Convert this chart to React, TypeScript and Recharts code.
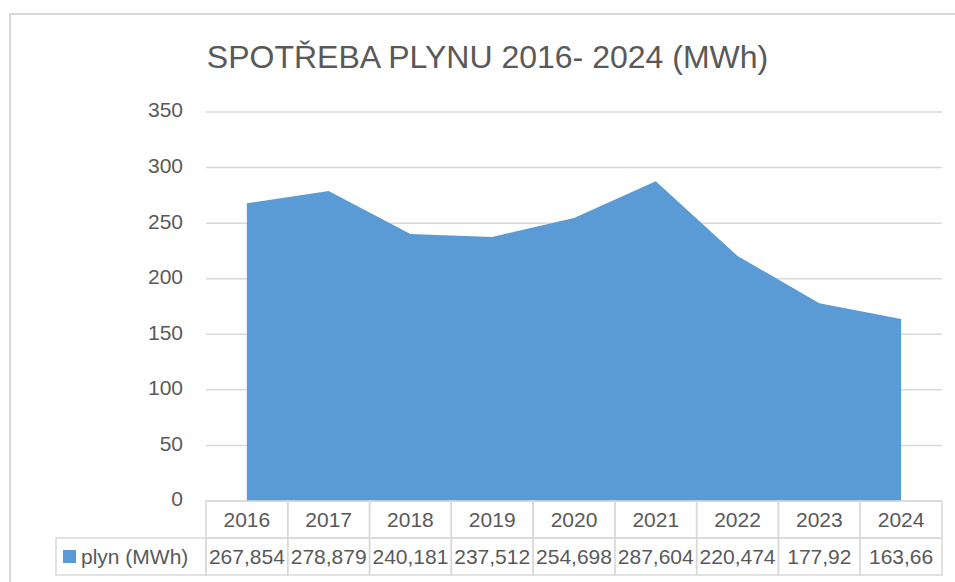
import React from 'react';
import { AreaChart, Area, XAxis, YAxis, CartesianGrid } from 'recharts';

const years = ['2016', '2017', '2018', '2019', '2020', '2021', '2022', '2023', '2024'];
const consumption = [267.854, 278.879, 240.181, 237.512, 254.698, 287.604, 220.474, 177.92, 163.66];
const yTicks = [0, 50, 100, 150, 200, 250, 300, 350];
const seriesName = 'plyn (MWh)';
const title = 'SPOTŘEBA PLYNU 2016- 2024 (MWh)';

const data = years.map((year, i) => ({ year, plyn: consumption[i] }));

const WIDTH = 955;
const HEIGHT = 582;
const PLOT_LEFT = 206;
const PLOT_RIGHT = 942;
const COL_W = (PLOT_RIGHT - PLOT_LEFT) / years.length;
const ROW_H = 37;
const TEXT = '#595959';
const BORDER = '#d9d9d9';
const FILL = '#5b9bd5';
const FONT = '"Liberation Sans", Arial, sans-serif';

const formatValue = (v: number) => String(v).replace('.', ',');

const TableTick = (props: any) => {
    const { x, y, payload, index } = props;
    const value = consumption[index];
    return (
        <g>
            <rect x={x - COL_W / 2} y={y} width={COL_W} height={ROW_H} fill="none" stroke={BORDER} strokeWidth={1.5} />
            <rect x={x - COL_W / 2} y={y + ROW_H} width={COL_W} height={ROW_H} fill="none" stroke={BORDER} strokeWidth={1.5} />
            <text x={x} y={y + ROW_H / 2} dy="0.355em" textAnchor="middle" fill={TEXT} fontSize={21} fontFamily={FONT}>
                {payload.value}
            </text>
            <text x={x} y={y + ROW_H * 1.5} dy="0.355em" textAnchor="middle" fill={TEXT} fontSize={21} fontFamily={FONT}>
                {formatValue(value)}
            </text>
            {index === 0 && (
                <g>
                    <rect x={56} y={y + ROW_H} width={x - COL_W / 2 - 56} height={ROW_H} fill="none" stroke={BORDER} strokeWidth={1.5} />
                    <rect x={63} y={y + ROW_H + 12} width={13} height={13} fill={FILL} />
                    <text x={81} y={y + ROW_H * 1.5} dy="0.355em" fill={TEXT} fontSize={21} fontFamily={FONT}>
                        {seriesName}
                    </text>
                </g>
            )}
        </g>
    );
};

export default function App() {
    return (
        <div style={{ position: 'absolute', left: 0, top: 0, width: WIDTH, height: HEIGHT, background: '#fff', overflow: 'hidden' }}>
            <div
                style={{
                    position: 'absolute',
                    left: 9,
                    top: 13,
                    width: WIDTH,
                    height: HEIGHT,
                    borderLeft: `2px solid ${BORDER}`,
                    borderTop: `2px solid ${BORDER}`,
                }}
            />
            <div
                style={{
                    position: 'absolute',
                    left: 0,
                    top: 37,
                    width: 975,
                    textAlign: 'center',
                    fontFamily: FONT,
                    fontSize: 32,
                    color: TEXT,
                    lineHeight: '40px',
                }}
            >
                {title}
            </div>
            <AreaChart
                width={WIDTH}
                height={HEIGHT}
                data={data}
                margin={{ top: 112, right: WIDTH - PLOT_RIGHT, bottom: 0, left: 0 }}
                style={{ position: 'absolute', left: 0, top: 0 }}
            >
                <CartesianGrid vertical={false} stroke={BORDER} strokeWidth={1.5} />
                <XAxis
                    dataKey="year"
                    height={81}
                    interval={0}
                    axisLine={false}
                    tickLine={false}
                    tickSize={0}
                    tickMargin={0}
                    padding={{ left: COL_W / 2, right: COL_W / 2 }}
                    tick={(props: any) => <TableTick {...props} />}
                />
                <YAxis
                    width={PLOT_LEFT}
                    domain={[0, 350]}
                    ticks={yTicks}
                    axisLine={false}
                    tickLine={false}
                    tickSize={0}
                    tickMargin={23}
                    tick={{ fill: TEXT, fontSize: 21, fontFamily: FONT, dy: -2 }}
                />
                <Area
                    type="linear"
                    dataKey="plyn"
                    name={seriesName}
                    fill={FILL}
                    fillOpacity={1}
                    stroke="none"
                    isAnimationActive={false}
                />
            </AreaChart>
        </div>
    );
}
